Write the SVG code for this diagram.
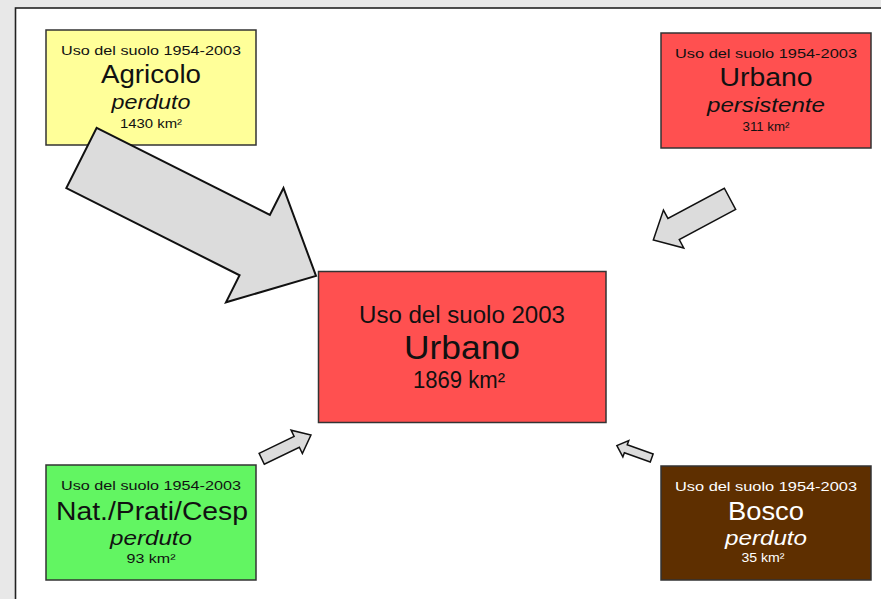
<svg xmlns="http://www.w3.org/2000/svg" width="881" height="599" viewBox="0 0 881 599">
<style>
.box{stroke:#333;stroke-width:1.5}
.t{font-family:"Liberation Sans",Arial,sans-serif;text-anchor:middle;fill:#111}
.s{font-size:13px}
.b{font-size:25px}
.i{font-size:21px;font-style:italic}
.k{font-size:12.5px}
.w{fill:#fff}
.arr{fill:#dcdcdc;stroke:#111;stroke-linejoin:miter}
</style>
<rect x="0" y="0" width="881" height="599" fill="#e8e8e8"/>
<rect x="15.5" y="8" width="880" height="620" fill="#fff" stroke="#222" stroke-width="1.6"/>

<g id="agricolo">
<rect class="box" x="46" y="30" width="210" height="115" fill="#ffff99"/>
<text class="t s" x="151" y="55" textLength="180" lengthAdjust="spacingAndGlyphs">Uso del suolo 1954-2003</text>
<text class="t b" x="151" y="83" textLength="100" lengthAdjust="spacingAndGlyphs">Agricolo</text>
<text class="t i" x="151" y="109" textLength="79" lengthAdjust="spacingAndGlyphs">perduto</text>
<text class="t k" x="151" y="128" textLength="62" lengthAdjust="spacingAndGlyphs">1430 km²</text>
</g>

<g id="urbano-persistente">
<rect class="box" x="661" y="33" width="210" height="115" fill="#ff5050"/>
<text class="t s" x="766" y="58" textLength="182" lengthAdjust="spacingAndGlyphs">Uso del suolo 1954-2003</text>
<text class="t b" x="766" y="86" textLength="93" lengthAdjust="spacingAndGlyphs">Urbano</text>
<text class="t i" x="766" y="112" textLength="118" lengthAdjust="spacingAndGlyphs">persistente</text>
<text class="t k" x="766" y="131" textLength="47" lengthAdjust="spacingAndGlyphs">311 km²</text>
</g>

<g id="urbano-2003">
<rect class="box" x="318.5" y="271.5" width="287.5" height="151" fill="#ff5050"/>
<text class="t" x="462" y="323" font-size="23" textLength="206" lengthAdjust="spacingAndGlyphs">Uso del suolo 2003</text>
<text class="t" x="462" y="359" font-size="34" textLength="116" lengthAdjust="spacingAndGlyphs">Urbano</text>
<text class="t" x="459" y="388" font-size="23" textLength="92" lengthAdjust="spacingAndGlyphs">1869 km²</text>
</g>

<g id="nat-prati-cesp">
<rect class="box" x="46" y="465" width="210" height="115" fill="#62f562"/>
<text class="t s" x="151" y="490" textLength="180" lengthAdjust="spacingAndGlyphs">Uso del suolo 1954-2003</text>
<text class="t b" x="152" y="520" textLength="192" lengthAdjust="spacingAndGlyphs">Nat./Prati/Cesp</text>
<text class="t i" x="151" y="545" textLength="82" lengthAdjust="spacingAndGlyphs">perduto</text>
<text class="t k" x="151" y="563" textLength="49" lengthAdjust="spacingAndGlyphs">93 km²</text>
</g>

<g id="bosco">
<rect class="box" x="661" y="466" width="210" height="114" fill="#5e2f00"/>
<text class="t s w" x="766" y="491" textLength="182" lengthAdjust="spacingAndGlyphs">Uso del suolo 1954-2003</text>
<text class="t b w" x="766" y="520" textLength="76" lengthAdjust="spacingAndGlyphs">Bosco</text>
<text class="t i w" x="766" y="545" textLength="82" lengthAdjust="spacingAndGlyphs">perduto</text>
<text class="t k w" x="763" y="562" textLength="43" lengthAdjust="spacingAndGlyphs">35 km²</text>
</g>

<g id="connectors">
<path class="arr" stroke-width="2" transform="translate(81.5,158) rotate(26.7)" d="M0,-33.75 L193.9,-33.75 L193.9,-64 L262.5,0 L193.9,64 L193.9,33.75 L0,33.75 Z"/>
<path class="arr" stroke-width="1.5" transform="translate(730,198.8) rotate(151.8)" d="M0,-12 L64,-12 L64,-21.5 L87,0 L64,21.5 L64,12 L0,12 Z"/>
<path class="arr" stroke-width="1.5" transform="translate(261.7,458.8) rotate(-25.8)" d="M0,-6 L38.9,-6 L38.9,-13 L54.7,0 L38.9,13 L38.9,6 L0,6 Z"/>
<path class="arr" stroke-width="1.5" transform="translate(651.7,458) rotate(199.7)" d="M0,-4.25 L27.5,-4.25 L27.5,-8.75 L37,0 L27.5,8.75 L27.5,4.25 L0,4.25 Z"/>
</g>
</svg>
